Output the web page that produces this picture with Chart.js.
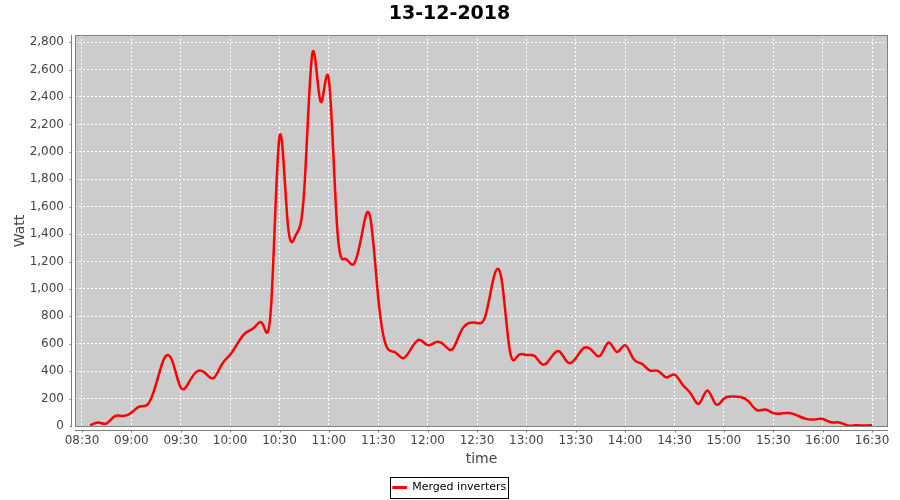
<!DOCTYPE html>
<html>
<head>
<meta charset="utf-8">
<title>13-12-2018</title>
<script src="https://cdn.jsdelivr.net/npm/chart.js@4.4.1/dist/chart.umd.min.js"></script>
<style>
  html, body { margin: 0; padding: 0; background: #fff; }
  #wrap { width: 900px; height: 500px; }
</style>
</head>
<body>
<div id="wrap"><canvas id="power" width="900" height="500"></canvas></div>
<script>
/* ── Data ───────────────────────────────────────────────────── */
const times = [
  '08:35', '08:40', '08:45', '08:50', '08:55',
  '09:00', '09:05', '09:10', '09:15', '09:20', '09:25', '09:30', '09:35', '09:40', '09:45', '09:50', '09:55',
  '10:00', '10:05', '10:10', '10:15', '10:20', '10:25', '10:30', '10:35', '10:40', '10:45', '10:50', '10:55',
  '11:00', '11:05', '11:10', '11:15', '11:20', '11:25', '11:30', '11:35', '11:40', '11:45', '11:50', '11:55',
  '12:00', '12:05', '12:10', '12:15', '12:20', '12:25', '12:30', '12:35', '12:40', '12:45', '12:50', '12:55',
  '13:00', '13:05', '13:10', '13:15', '13:20', '13:25', '13:30', '13:35', '13:40', '13:45', '13:50', '13:55',
  '14:00', '14:05', '14:10', '14:15', '14:20', '14:25', '14:30', '14:35', '14:40', '14:45', '14:50', '14:55',
  '15:00', '15:05', '15:10', '15:15', '15:20', '15:25', '15:30', '15:35', '15:40', '15:45', '15:50', '15:55',
  '16:00', '16:05', '16:10', '16:15', '16:20', '16:25', '16:30'
];

const watts = [
  5, 25, 20, 72, 73,
  97, 143, 158, 305, 494, 470, 280, 320, 400, 385, 350, 450,
  520, 612, 685, 722, 740, 895, 2110, 1480, 1395, 1715, 2720, 2365,
  2525, 1455, 1220, 1180, 1395, 1530, 935, 580, 540, 495, 565, 630,
  590, 612, 592, 560, 685, 750, 752, 800, 1075, 1065, 545, 515,
  518, 510, 448, 500, 545, 465, 495, 570, 550, 515, 610, 540,
  590, 490, 455, 405, 402, 355, 375, 300, 235, 165, 260, 160,
  200, 215, 212, 180, 117, 120, 95, 92, 95, 75, 52, 48,
  52, 28, 26, 5, 5, 4, 5
];

const xTickLabels = [
  '08:30', '09:00', '09:30', '10:00', '10:30', '11:00', '11:30', '12:00', '12:30',
  '13:00', '13:30', '14:00', '14:30', '15:00', '15:30', '16:00', '16:30'
];
const yTickValues = [0, 200, 400, 600, 800, 1000, 1200, 1400, 1600, 1800, 2000, 2200, 2400, 2600, 2800];

const toMinutes = s => { const [h, m] = s.split(':').map(Number); return h * 60 + m; };

const AXIS_GREY = '#808080';
const TEXT_GREY = '#444444';

Chart.defaults.font.family = "'DejaVu Sans', sans-serif";

/* ── Plot background + outline, offset axis lines ───────────── */
const plotFrame = {
  id: 'plotFrame',
  beforeDraw(chart) {
    const { ctx, chartArea: a } = chart;
    ctx.save();
    ctx.fillStyle = '#ffffff';
    ctx.fillRect(0, 0, chart.width, chart.height);
    ctx.fillStyle = '#cccccc';
    ctx.fillRect(a.left, a.top, a.right - a.left, a.bottom - a.top);
    ctx.restore();
  },
  afterDraw(chart) {
    const { ctx, chartArea: a, scales } = chart;
    ctx.save();
    ctx.strokeStyle = AXIS_GREY;
    ctx.lineWidth = 1;
    ctx.strokeRect(a.left + 0.5, a.top + 0.5, a.right - a.left - 1, a.bottom - a.top - 1);

    // y axis line sits 4px left of the plot, ticks point outwards
    const ax = a.left - 3.5;
    ctx.beginPath();
    ctx.moveTo(ax, a.top);
    ctx.lineTo(ax, a.bottom);
    scales.y.ticks.forEach(t => {
      const py = Math.round(scales.y.getPixelForValue(t.value)) + 0.5;
      ctx.moveTo(ax - 2, py);
      ctx.lineTo(ax, py);
    });
    // x axis line 4px below the plot
    const ay = a.bottom + 3.5;
    ctx.moveTo(a.left, ay);
    ctx.lineTo(a.right, ay);
    scales.x.ticks.forEach(t => {
      const px = Math.round(scales.x.getPixelForValue(t.value)) + 0.5;
      ctx.moveTo(px, ay);
      ctx.lineTo(px, ay + 2);
    });
    ctx.stroke();

    // frame around the legend entry
    const hb = chart.legend && chart.legend.legendHitBoxes[0];
    if (hb) {
      ctx.strokeStyle = '#000000';
      ctx.strokeRect(Math.round(hb.left) - 2.5, Math.round(hb.top) - 4.5,
                     Math.round(hb.width) + 5, Math.round(hb.height) + 10);
    }
    ctx.restore();
  }
};

/* ── Natural cubic spline through the points (like XYSplineRenderer) ── */
const naturalSpline = {
  id: 'naturalSpline',
  beforeDatasetDraw(chart, args) {
    const meta = args.meta;
    const line = meta.dataset;
    const pts = meta.data;
    const n = pts.length;
    if (!line || n < 3) return;
    line.updateControlPoints(chart.chartArea, meta.iScale.axis);

    const x = pts.map(p => p.x);
    const y = pts.map(p => p.y);
    const h = [];
    for (let i = 0; i < n - 1; i++) h.push(x[i + 1] - x[i]);

    const M = new Array(n).fill(0);
    const c = new Array(n).fill(0);
    const d = new Array(n).fill(0);
    for (let i = 1; i < n - 1; i++) {
      const lo = h[i - 1], mid = 2 * (h[i - 1] + h[i]), up = h[i];
      const rhs = 6 * ((y[i + 1] - y[i]) / h[i] - (y[i] - y[i - 1]) / h[i - 1]);
      const m = mid - lo * c[i - 1];
      c[i] = up / m;
      d[i] = (rhs - lo * d[i - 1]) / m;
    }
    for (let i = n - 2; i >= 1; i--) M[i] = d[i] - c[i] * M[i + 1];

    const slope = i => i < n - 1
      ? (y[i + 1] - y[i]) / h[i] - h[i] * (2 * M[i] + M[i + 1]) / 6
      : (y[i] - y[i - 1]) / h[i - 1] + h[i - 1] * (M[i - 1] + 2 * M[i]) / 6;

    pts.forEach((p, i) => {
      const s = slope(i);
      if (i > 0) { p.cp1x = x[i] - h[i - 1] / 3; p.cp1y = y[i] - s * h[i - 1] / 3; }
      if (i < n - 1) { p.cp2x = x[i] + h[i] / 3; p.cp2y = y[i] + s * h[i] / 3; }
    });
    line._path = undefined;
  }
};

/* ── Chart ──────────────────────────────────────────────────── */
new Chart(document.getElementById('power'), {
  type: 'line',
  data: {
    datasets: [{
      label: 'Merged inverters',
      data: times.map((t, i) => ({ x: toMinutes(t), y: watts[i] })),
      borderColor: '#ff0000',
      backgroundColor: '#ff0000',
      borderWidth: 2.5,
      pointRadius: 0,
      tension: 0.4,
      fill: false
    }]
  },
  options: {
    responsive: false,
    animation: false,
    events: [],
    layout: { padding: { left: 11, right: 12, top: 0, bottom: -3 } },
    scales: {
      x: {
        type: 'linear',
        min: 505.75,
        max: 999.7,
        afterBuildTicks: axis => { axis.ticks = xTickLabels.map(l => ({ value: toMinutes(l) })); },
        afterFit: axis => { axis.height = 49; },
        ticks: {
          autoSkip: false,
          maxRotation: 0,
          padding: 6.5,
          color: TEXT_GREY,
          font: { size: 12 },
          callback: (v, i) => xTickLabels[i]
        },
        grid: { color: '#ffffff', lineWidth: 1, drawTicks: false },
        border: { display: false, dash: [2, 2] },
        title: {
          display: true, text: 'time', color: TEXT_GREY,
          font: { size: 14 }, padding: { top: 0, bottom: 8.6 }
        }
      },
      y: {
        type: 'linear',
        min: -7,
        max: 2852,
        afterBuildTicks: axis => { axis.ticks = yTickValues.map(v => ({ value: v })); },
        afterFit: axis => { axis.width = 64; },
        ticks: {
          padding: 11,
          color: TEXT_GREY,
          font: { size: 12 },
          callback: v => v.toLocaleString('en-US')
        },
        grid: { color: '#ffffff', lineWidth: 1, drawTicks: false },
        border: { display: false, dash: [2, 2] },
        title: {
          display: true, text: 'Watt', color: TEXT_GREY,
          font: { size: 14 }, padding: { top: 1, bottom: 0 }
        }
      }
    },
    plugins: {
      title: {
        display: true,
        text: '13-12-2018',
        color: '#000000',
        font: { size: 19, weight: 'bold' },
        padding: { top: 3, bottom: 9.2 }
      },
      legend: {
        position: 'bottom',
        labels: {
          color: '#000000',
          font: { size: 11 },
          boxWidth: 14,
          boxHeight: 2,
          padding: 6,
          generateLabels: chart => Chart.defaults.plugins.legend.labels.generateLabels(chart)
            .map(item => ({ ...item, lineWidth: 1 }))
        }
      },
      tooltip: { enabled: false }
    }
  },
  plugins: [plotFrame, naturalSpline]
});
</script>
</body>
</html>
